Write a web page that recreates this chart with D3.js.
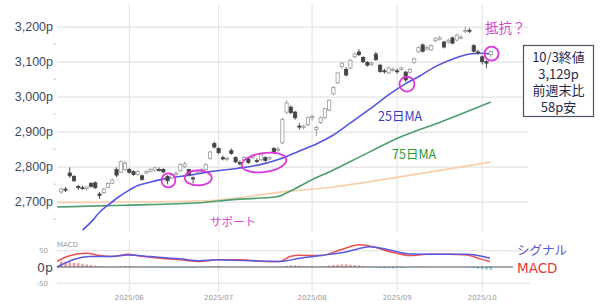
<!DOCTYPE html>
<html>
<head>
<meta charset="utf-8">
<script src="https://cdn.jsdelivr.net/npm/d3@7"></script>
<style>
    body { margin: 0; background: #fff; }
    svg { display: block; font-family: 'DejaVu Sans', sans-serif; }
    .jp { font-family: 'Noto Sans CJK JP', sans-serif; }
</style>
</head>
<body>
<div id="chart"></div>
<script>
'use strict';

// Trading days shown on the chart (TSE calendar, May 9 - Oct 3 2025)
const dates = [
    '2025-05-09','2025-05-12','2025-05-13','2025-05-14','2025-05-15','2025-05-16','2025-05-19','2025-05-20',
    '2025-05-21','2025-05-22','2025-05-23','2025-05-26','2025-05-27','2025-05-28','2025-05-29','2025-05-30',
    '2025-06-02','2025-06-03','2025-06-04','2025-06-05','2025-06-06','2025-06-09','2025-06-10','2025-06-11',
    '2025-06-12','2025-06-13','2025-06-16','2025-06-17','2025-06-18','2025-06-19','2025-06-20','2025-06-23',
    '2025-06-24','2025-06-25','2025-06-26','2025-06-27','2025-06-30',
    '2025-07-01','2025-07-02','2025-07-03','2025-07-04','2025-07-07','2025-07-08','2025-07-09','2025-07-10',
    '2025-07-11','2025-07-14','2025-07-15','2025-07-16','2025-07-17','2025-07-18','2025-07-22','2025-07-23',
    '2025-07-24','2025-07-25','2025-07-28','2025-07-29','2025-07-30','2025-07-31',
    '2025-08-01','2025-08-04','2025-08-05','2025-08-06','2025-08-07','2025-08-08','2025-08-12','2025-08-13',
    '2025-08-14','2025-08-15','2025-08-18','2025-08-19','2025-08-20','2025-08-21','2025-08-22','2025-08-25',
    '2025-08-26','2025-08-27','2025-08-28','2025-08-29',
    '2025-09-01','2025-09-02','2025-09-03','2025-09-04','2025-09-05','2025-09-08','2025-09-09','2025-09-10',
    '2025-09-11','2025-09-12','2025-09-16','2025-09-17','2025-09-18','2025-09-19','2025-09-22','2025-09-24',
    '2025-09-25','2025-09-26','2025-09-29','2025-09-30',
    '2025-10-01','2025-10-02','2025-10-03'
];

// Daily candles [open, high, low, close]
const ohlc = [
    [2728,2740,2722,2736],[2736,2742,2728,2733],[2782,2798,2768,2774],[2772,2776,2756,2760],
    [2744,2748,2734,2740],[2740,2746,2734,2738],[2738,2744,2732,2742],[2752,2756,2740,2744],
    [2754,2758,2736,2740],[2722,2728,2708,2718],[2726,2740,2722,2736],[2740,2756,2738,2752],
    [2752,2766,2750,2762],[2792,2798,2770,2776],[2784,2818,2782,2814],[2792,2816,2788,2810],
    [2792,2796,2780,2784],[2786,2790,2774,2778],[2778,2790,2774,2786],[2774,2778,2760,2764],
    [2782,2790,2778,2786],[2786,2796,2784,2792],[2790,2800,2786,2797],[2792,2798,2786,2790],
    [2792,2796,2782,2785],[2772,2776,2750,2760],[2768,2782,2764,2778],[2778,2786,2774,2782],
    [2788,2810,2786,2806],[2800,2814,2796,2808],[2792,2794,2774,2778],[2768,2772,2752,2766],
    [2784,2792,2780,2788],[2788,2796,2784,2792],[2792,2810,2790,2806],[2824,2846,2820,2842],
    [2866,2872,2852,2856],[2852,2856,2836,2840],[2826,2832,2818,2822],[2822,2828,2816,2824],
    [2846,2852,2834,2838],[2826,2830,2810,2814],[2812,2818,2804,2808],[2820,2830,2816,2826],
    [2822,2826,2808,2812],[2826,2836,2822,2832],[2818,2824,2810,2816],[2820,2838,2816,2834],
    [2826,2830,2814,2818],[2822,2830,2818,2826],[2852,2856,2836,2840],[2848,2856,2842,2850],
    [2868,2940,2864,2935],[2956,2990,2950,2982],[2970,2976,2950,2955],[2956,2960,2934,2940],
    [2916,2924,2906,2914],[2912,2920,2906,2916],[2920,2944,2916,2940],[2940,2948,2932,2944],
    [2906,2918,2888,2912],[2926,2944,2922,2940],[2940,2968,2936,2966],[2962,2992,2958,2990],
    [3008,3030,3004,3026],[3040,3070,3036,3068],[3086,3100,3080,3096],[3078,3084,3058,3062],
    [3082,3108,3078,3104],[3114,3126,3110,3122],[3128,3136,3116,3120],[3112,3116,3096,3100],
    [3098,3102,3086,3090],[3092,3100,3088,3096],[3122,3128,3102,3106],[3090,3094,3068,3072],
    [3074,3080,3066,3072],[3068,3086,3064,3082],[3076,3084,3072,3078],[3074,3080,3066,3072],
    [3078,3086,3074,3082],[3070,3074,3042,3048],[3070,3082,3066,3078],[3098,3112,3094,3108],
    [3128,3144,3126,3140],[3148,3152,3126,3130],[3136,3146,3132,3140],[3134,3150,3130,3146],
    [3160,3170,3156,3166],[3164,3174,3160,3168],[3156,3160,3138,3142],[3156,3166,3152,3160],
    [3168,3172,3150,3153],[3162,3180,3158,3176],[3168,3176,3164,3170],[3186,3200,3182,3189],
    [3190,3196,3182,3187],[3146,3150,3126,3130],[3128,3134,3120,3126],[3114,3118,3092,3100],
    [3100,3104,3082,3096],[3120,3132,3114,3129]
];

// Moving averages, [trading day number, value]
const ma25 = [
    [5,2619],[7.5,2648],[9,2670],[11,2690],[13.3,2712],[15.7,2731],[18,2746],[21.3,2757],[24.4,2766],
    [30.3,2776],[35,2786],[41.3,2795],[47.5,2808],[51.4,2822],[56,2845],[60,2865],[63.9,2890],[68,2925],
    [72.6,2965],[77.3,3008],[80.8,3036],[84.4,3060],[88.3,3088],[92.1,3108],[96.1,3122],[98.9,3124],[101,3122]
];
const ma75 = [
    [-1,2685],[15,2690],[32.7,2697],[40.4,2706],[50.7,2714],[53.8,2730],[58.5,2760],[63.9,2790],
    [70.2,2828],[76.6,2867],[79.6,2884],[89.7,2930],[101,2985]
];
const ma200 = [[-1,2698],[32.7,2702],[52.1,2728],[63.9,2742],[79.6,2771],[101,2813]];

// MACD panel lines, [trading day number, value]
const macdLine = [
    [-1,17],[1.4,32],[3.7,40],[6,42],[9,35],[12,32],[15.7,39],[18.5,34],[23.2,27],[27.9,22],[32.6,17],
    [36.6,22],[42,22],[48.4,17],[51.4,17],[53.8,32],[56.1,36],[60.9,35],[65.5,52],[70.2,68],[73.3,62],
    [77.3,47],[82,35],[86,39],[90.7,39],[95.4,37],[98.5,25],[100.8,17]
];
const signalLine = [
    [-1,0],[2.8,22],[6.8,32],[11.5,32],[15.7,37],[20.9,32],[27.9,25],[32.6,19],[36.6,22],[44.4,19],
    [51.4,17],[56.1,27],[60.9,35],[67.2,47],[72.6,62],[77.3,52],[82,40],[87.4,39],[95.4,39],[100.8,27]
];
const macdHist = [
    17,16,15,13,12,10,8,6,4,2,
    1,0,0,1,2,3,
    2,1,0,-1,-1,
    -1,-1,-1,-2,-2,-2,
    -2,-2,-2,-2,-2,-1,-1,
    0,1,2,2,1,0,0,
    0,0,1,1,0,0,0,0,0,0,
    1,2,4,5,5,4,3,
    2,1,0,1,2,4,6,7,
    8,8,7,6,5,3,1,
    -1,-2,-3,-4,-4,-4,-3,-3,-2,-1,
    0,1,1,1,0,0,0,0,0,0,0,0,-1,-1,
    -3,-5,-7,-8,-9
];

const priceTicks = [2700, 2800, 2900, 3000, 3100, 3200];
const minorTicks = [2650, 2750, 2850, 2950, 3050, 3150];
const macdTicks = [50, -50];
const monthTicks = ['2025-06-02', '2025-07-01', '2025-08-01', '2025-09-01', '2025-10-01'];
const monthLabels = ['2025/06', '2025/07', '2025/08', '2025/09', '2025/10'];

// Highlighted spots [trading day number, price]
const marks = [[25.2, 2761], [32.2, 2768], [47.7, 2812], [81.3, 3036], [101.2, 3123]];
const lastClose = 3129, weekChange = -58;

const W = 600, H = 307;
const left = 57, right = 529;
const magenta = '#dd33dd';

const svg = d3.select('#chart').append('svg').attr('width', W).attr('height', H);

const x = d3.scaleLinear().domain([-1, 110]).range([left, right]);
const y = d3.scaleLinear().domain([2700, 3200]).range([201.7, 26.7]);
const ym = d3.scaleLinear().domain([-50, 50]).range([283.3, 250.7]);

svg.append('defs').append('clipPath').attr('id', 'main-clip')
    .append('rect').attr('x', left).attr('y', 3).attr('width', right - left).attr('height', 229);

// Month grid lines
const monthX = monthTicks.map(d => x(dates.indexOf(d)));
svg.append('g').selectAll('line').data(monthX).join('line')
    .attr('x1', d => d).attr('x2', d => d).attr('y1', 4).attr('y2', 232)
    .attr('stroke', '#e6e6e6').attr('stroke-width', 1.2);
svg.append('g').selectAll('line').data(monthX).join('line')
    .attr('x1', d => d).attr('x2', d => d).attr('y1', 240).attr('y2', 292)
    .attr('stroke', '#e6e6e6').attr('stroke-width', 1.2);

// Price axis with grid
const axisY = svg.append('g').attr('transform', `translate(${left},0)`)
    .call(d3.axisLeft(y).tickValues(priceTicks).tickSize(-(right - left - 1)).tickPadding(4)
        .tickFormat(d => d3.format(',')(d) + 'p'));
axisY.select('.domain').remove();
axisY.selectAll('line').attr('stroke', '#e3e3e3').attr('stroke-width', 1.3);
axisY.selectAll('text').attr('fill', '#3d4a5c').style('font-size', '12.5px');

svg.append('g').selectAll('line').data(minorTicks).join('line')
    .attr('x1', left - 4).attr('x2', left - 1).attr('y1', d => y(d)).attr('y2', d => y(d))
    .attr('stroke', '#d0d0d0');

const plot = svg.append('g').attr('clip-path', 'url(#main-clip)');

// Moving average lines
const maLine = d3.line().x(d => x(d[0])).y(d => y(d[1])).curve(d3.curveMonotoneX);
plot.append('path').datum(ma200).attr('d', maLine).attr('fill', 'none')
    .attr('stroke', '#f7cfaa').attr('stroke-width', 1.6);
plot.append('path').datum(ma75).attr('d', maLine).attr('fill', 'none')
    .attr('stroke', '#4e9e70').attr('stroke-width', 1.6);
plot.append('path').datum(ma25).attr('d', maLine).attr('fill', 'none')
    .attr('stroke', '#5555e0').attr('stroke-width', 1.6);

// Candles
const candles = plot.append('g').selectAll('g').data(ohlc).join('g');
const isDown = d => d[3] < d[0];
candles.append('line')
    .attr('x1', (d, i) => x(i)).attr('x2', (d, i) => x(i))
    .attr('y1', d => y(d[1])).attr('y2', d => y(d[2]))
    .attr('stroke', d => isDown(d) ? '#555' : '#999').attr('stroke-width', 1);
candles.append('rect')
    .attr('x', (d, i) => x(i) - 1.6).attr('width', 3.2)
    .attr('y', d => y(Math.max(d[0], d[3])))
    .attr('height', d => Math.max(1, Math.abs(y(d[0]) - y(d[3]))))
    .attr('fill', d => isDown(d) ? '#444' : '#fff')
    .attr('stroke', d => isDown(d) ? '#444' : '#999').attr('stroke-width', 0.8);

// Highlight circles
const markSize = [[7, 7, 0], [13.5, 7.5, 0], [22.5, 9.5, -8], [7.5, 7.5, 0], [7, 7, 0]];
svg.append('g').selectAll('ellipse').data(marks).join('ellipse')
    .attr('transform', (d, i) => `translate(${x(d[0])},${y(d[1])}) rotate(${markSize[i][2]})`)
    .attr('rx', (d, i) => markSize[i][0]).attr('ry', (d, i) => markSize[i][1])
    .attr('fill', 'none').attr('stroke', magenta).attr('stroke-width', 1.8);

// Annotations
svg.append('text').attr('class', 'jp').attr('x', 485).attr('y', 33)
    .style('font-size', '13.5px').attr('fill', '#d445d4').text('抵抗？');
svg.append('text').attr('class', 'jp').attr('x', 210).attr('y', 226)
    .style('font-size', '11.5px').attr('fill', '#d445d4').text('サポート');
svg.append('text').attr('class', 'jp').attr('x', 378).attr('y', 121)
    .style('font-size', '12.5px').attr('fill', '#3a3ac8').text('25日MA');
svg.append('text').attr('class', 'jp').attr('x', 392).attr('y', 159)
    .style('font-size', '12.5px').attr('fill', '#2e9a38').text('75日MA');

const box = svg.append('g');
box.append('rect').attr('x', 523.5).attr('y', 45.5).attr('width', 70).attr('height', 71)
    .attr('fill', '#fff').attr('stroke', '#4b5563').attr('stroke-width', 1.2);
const boxLines = ['10/3終値', d3.format(',')(lastClose) + 'p', '前週末比', Math.abs(weekChange) + 'p安'];
box.selectAll('text').data(boxLines).join('text').attr('class', 'jp')
    .attr('x', 558.5).attr('y', (d, i) => 62 + i * 16.5).attr('text-anchor', 'middle')
    .style('font-size', '13px').attr('fill', '#1f2b4d').text(d => d);

// MACD panel
svg.append('g').selectAll('line').data(macdTicks).join('line')
    .attr('x1', left).attr('x2', 530).attr('y1', d => ym(d)).attr('y2', d => ym(d))
    .attr('stroke', '#e6e6e6').attr('stroke-width', 1.2);
svg.append('g').selectAll('text').data(macdTicks).join('text')
    .attr('x', 48).attr('y', d => ym(d) + 2.5).attr('text-anchor', 'end')
    .style('font-size', '7px').attr('fill', '#999').text(d => d);
svg.append('text').attr('x', 53).attr('y', ym(0) + 4.5).attr('text-anchor', 'end')
    .style('font-size', '12.5px').attr('fill', '#3d4a5c').text('0p');
svg.append('text').attr('x', 57).attr('y', 246.5)
    .style('font-size', '7px').attr('fill', '#999').text('MACD');

svg.append('g').selectAll('rect').data(macdHist).join('rect')
    .attr('x', (d, i) => x(i) - 1.2).attr('width', 2.4)
    .attr('y', d => Math.min(ym(d), ym(0))).attr('height', d => Math.abs(ym(d) - ym(0)))
    .attr('fill', d => d >= 0 ? '#f19a9a' : '#7fcfd6');

svg.append('line').attr('x1', left).attr('x2', 513).attr('y1', ym(0)).attr('y2', ym(0))
    .attr('stroke', '#4a5560').attr('stroke-width', 1.2);

const mLine = d3.line().x(d => x(d[0])).y(d => ym(d[1])).curve(d3.curveMonotoneX);
svg.append('path').datum(macdLine).attr('d', mLine).attr('fill', 'none')
    .attr('stroke', '#ec5050').attr('stroke-width', 1.5);
svg.append('path').datum(signalLine).attr('d', mLine).attr('fill', 'none')
    .attr('stroke', '#5a5ae0').attr('stroke-width', 1.5);

svg.append('text').attr('class', 'jp').attr('x', 517).attr('y', 255)
    .style('font-size', '12.5px').attr('fill', '#5858d4').text('シグナル');
svg.append('text').attr('x', 517).attr('y', 273)
    .style('font-size', '13.5px').attr('fill', '#e23a3a').text('MACD');

// Month labels
svg.append('g').selectAll('text').data(monthX).join('text')
    .attr('x', d => d).attr('y', 300).attr('text-anchor', 'middle')
    .style('font-size', '7px').attr('fill', '#9a9a9a').text((d, i) => monthLabels[i]);
</script>
</body>
</html>
